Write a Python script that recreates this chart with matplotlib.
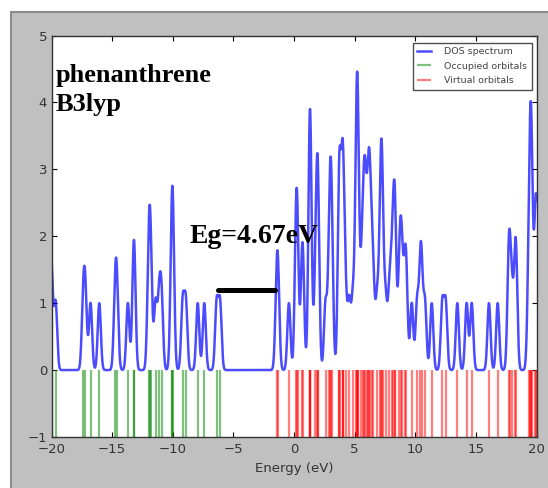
import numpy as np
import matplotlib
matplotlib.use('Agg')
import matplotlib.pyplot as plt
from matplotlib.patches import Rectangle

occupied = [-20.12, -19.98, -19.66, -17.38, -17.2, -16.78, -16.06, -14.75, -14.6,
            -13.7, -13.23, -13.17, -12.0, -11.9, -11.8, -11.42, -11.12, -10.92,
            -10.1, -10.03, -9.97, -9.18, -8.92, -7.94, -7.4, -6.38, -6.1]
virtual = [-1.43, -1.31, -0.42, 0.15, 0.22, 0.29, 0.66, 0.74, 1.28, 1.31, 1.33, 1.36,
           1.75, 1.91, 1.95, 1.99, 2.6, 2.9, 2.98, 3.06, 3.14, 3.72, 3.74, 3.76,
           4.0, 4.02, 4.04, 4.25, 4.55, 4.85, 5.1, 5.18, 5.21, 5.24, 5.3, 5.55, 5.7,
           5.8, 5.86, 5.98, 6.13, 6.19, 6.26, 6.4, 6.55, 6.85, 7.1, 7.18, 7.24, 7.3,
           7.55, 7.85, 8.05, 8.2, 8.3, 8.36, 8.68, 8.8, 8.92, 9.15, 9.27, 9.71, 10.15,
           10.42, 10.52, 10.8, 11.36, 12.23, 12.51, 13.47, 14.24, 14.66, 16.08, 16.8,
           17.7, 17.78, 17.98, 18.25, 18.32, 19.35, 19.47, 19.52, 19.57, 19.62, 19.88,
           19.96, 20.05]
fwhm = 0.3  # gaussian broadening

gap_ends = [-6.3, -1.55]
gap_level = 1.2
gap_label = 'Eg=4.67eV'

# DOS = gaussian broadened sum of the orbital levels
levels = np.array(occupied + virtual)
sigma = fwhm / 2.3548
energy = np.linspace(-20, 20, 4001)
dos = np.exp(-(energy[:, None] - levels[None, :]) ** 2 / (2 * sigma ** 2)).sum(axis=1)

fig = plt.figure(figsize=(5.48, 4.88), dpi=100, facecolor='white')
fig.patches.append(Rectangle((11 / 548, -0.1), 1.1, 0.1 + 476 / 488, transform=fig.transFigure,
                             facecolor='#c0c0c0', edgecolor='#8c8c8c', lw=1.5, zorder=-10))
ax = fig.add_axes([51.5 / 548, 51 / 488, 485 / 548, 401.5 / 488])

ax.plot(energy, dos, color='blue', alpha=0.7, lw=1.8, label='DOS spectrum')
ax.vlines(occupied, -1, 0, color='green', alpha=0.5, lw=1.6, label='Occupied orbitals')
ax.vlines(virtual, -1, 0, color='red', alpha=0.5, lw=1.6, label='Virtual orbitals')
ax.plot(gap_ends, [gap_level, gap_level], color='black', lw=3.6, solid_capstyle='round')

ax.set_xlim(-20, 20)
ax.set_ylim(-1, 5)
ax.set_xticks(range(-20, 21, 5))
ax.set_yticks(range(-1, 6))
ax.tick_params(direction='in', top=True, right=True, length=3.6, width=0.8,
               labelsize=9.5, pad=3.2, labelcolor='#333333')
ax.tick_params(axis='x', pad=4.5)
for s in ax.spines.values():
    s.set_color('#333333')
    s.set_linewidth(1.0)
ax.set_xlabel('Energy (eV)', fontsize=9.5, color='#333333', labelpad=4)

leg = ax.legend(loc='upper right', bbox_to_anchor=(0.99, 0.982), borderaxespad=0,
                fontsize=6.8, handlelength=1.4, handletextpad=1.4, labelspacing=0.55,
                fancybox=False, frameon=True, borderpad=0.5)
leg.get_frame().set_edgecolor('#222222')
leg.get_frame().set_linewidth(1.0)
for t in leg.get_texts():
    t.set_color('#444444')

serif = dict(family='Liberation Serif', weight='bold', color='black')
ax.text(0.0093, 0.885, 'phenanthrene', transform=ax.transAxes, fontsize=19, va='baseline', **serif)
ax.text(0.0093, 0.8127, 'B3lyp', transform=ax.transAxes, fontsize=19, va='baseline', **serif)
ax.text(0.2856, 0.4832, gap_label, transform=ax.transAxes, fontsize=20, va='baseline', **serif)

fig.savefig('out.png', dpi=100, facecolor=fig.get_facecolor())
